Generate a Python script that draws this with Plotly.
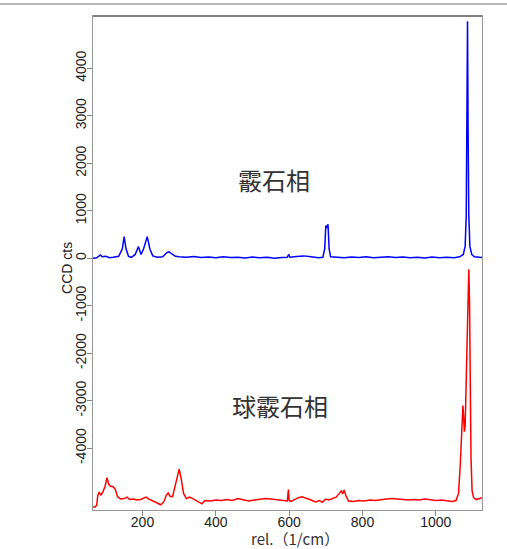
import plotly.graph_objects as go

# Raman spectra: aragonite (blue, top) and vaterite (red, offset below)
aragonite_x = [65, 75, 85, 90, 100, 110, 120, 135, 145, 150, 155, 162, 170, 180, 189, 196,
               203, 213, 220, 228, 240, 255, 265, 272, 280, 290, 300, 320, 340, 360, 380,
               400, 420, 440, 460, 480, 500, 520, 540, 560, 580, 595, 599, 602, 620, 640,
               660, 680, 692, 697, 700, 703, 706, 709, 713, 730, 750, 770, 790, 810, 830,
               850, 870, 890, 910, 930, 950, 970, 990, 1010, 1030, 1050, 1065, 1075, 1080,
               1083, 1085, 1086.5, 1088, 1090, 1093, 1098, 1105, 1115, 1126]
aragonite_y = [0, 10, 70, 30, 40, 10, 20, 40, 200, 455, 200, 40, 20, 80, 245, 80,
               200, 455, 200, 50, 20, 30, 110, 140, 90, 40, 30, 20, 35, 15, 25,
               10, 30, 15, 20, 5, 25, 10, 20, 0, 15, 20, 80, 20, 35, 50,
               30, 10, 20, 200, 690, 640, 716, 200, 30, 20, 10, 25, 15, 30, 10,
               20, 30, 15, 25, 10, 20, 5, 25, 10, 20, 10, 30, 80, 250,
               900, 2800, 4990, 2800, 900, 250, 80, 30, 20, 15]

vaterite_x = [65, 70, 75, 78, 82, 86, 92, 98, 103, 108, 113, 120, 126, 132, 140, 150, 158,
              165, 175, 185, 195, 203, 210, 218, 230, 240, 250, 258, 265, 270, 275, 282,
              290, 296, 300, 305, 312, 320, 328, 335, 345, 355, 362, 370, 385, 400, 415,
              430, 445, 460, 475, 490, 505, 520, 535, 550, 565, 580, 595, 598, 600, 605,
              615, 625, 635, 648, 660, 672, 683, 690, 700, 708, 718, 728, 738, 742, 746,
              750, 755, 762, 775, 790, 805, 820, 835, 850, 865, 880, 895, 910, 925, 940,
              955, 970, 985, 1000, 1015, 1030, 1045, 1055, 1062, 1067, 1071, 1074, 1076,
              1078, 1080, 1083, 1086, 1088, 1090, 1092, 1094, 1096, 1099, 1103, 1110,
              1118, 1126]
vaterite_y = [-5230, -5240, -5200, -5000, -4920, -4990, -4920, -4800, -4620, -4760, -4800,
              -4810, -4870, -5020, -5070, -5060, -5030, -5080, -5070, -5090, -5080, -5060,
              -5030, -5070, -5120, -5150, -5190, -5130, -4990, -4940, -5010, -5020, -4780,
              -4550, -4440, -4620, -4950, -5060, -5030, -5050, -5090, -5140, -5170, -5100,
              -5110, -5090, -5100, -5080, -5100, -5060, -5090, -5110, -5090, -5080, -5060,
              -5070, -5080, -5090, -5110, -4870, -5100, -5120, -5080, -5040, -5020, -5050,
              -5090, -5130, -5100, -5140, -5070, -5090, -5060, -5030, -4940, -4900, -4960,
              -4880, -5000, -5110, -5120, -5100, -5110, -5090, -5100, -5080, -5070, -5060,
              -5070, -5080, -5090, -5080, -5090, -5070, -5090, -5100, -5090, -5110, -5120,
              -5100, -4950, -4300, -3600, -3100, -3350, -3650, -3550, -2700, -1500, -700,
              -230, -900, -2600, -4200, -4900, -5040, -5080, -5060, -5040]

y_ticks = [-4000, -3000, -2000, -1000, 0, 1000, 2000, 3000, 4000]
y_tick_labels = ["-4000", "-3000", "-2000", "-1000", "0", "1000", "2000", "3000", "4000"]
x_ticks = [200, 400, 600, 800, 1000]

tick_font = dict(family="Liberation Sans", size=14, color="#222")

fig = go.Figure()
fig.add_trace(go.Scatter(x=aragonite_x, y=aragonite_y, mode="lines",
                         line=dict(color="#0000ff", width=1.5), showlegend=False))
fig.add_trace(go.Scatter(x=vaterite_x, y=vaterite_y, mode="lines",
                         line=dict(color="#ff0000", width=1.5), showlegend=False))

fig.add_annotation(x=560, y=1660, text="霰石相", showarrow=False,
                   font=dict(family="Noto Sans CJK JP", size=24, color="#333"))
fig.add_annotation(x=576, y=-3100, text="球霰石相", showarrow=False,
                   font=dict(family="Noto Sans CJK JP", size=24, color="#333"))

# axis titles placed by hand
fig.add_annotation(xref="paper", yref="paper", x=0.52, y=0, yshift=-28, yanchor="middle",
                   text="rel.（1/cm）", showarrow=False,
                   font=dict(family="Noto Sans CJK JP", size=15, color="#333"))
fig.add_annotation(xref="paper", yref="paper", x=0, xshift=-26, y=0.49, textangle=-90,
                   xanchor="center", text="CCD cts", showarrow=False, font=tick_font)

# top frame edge is darker, plus thin border line above the plot
fig.add_shape(type="line", xref="paper", yref="paper", x0=0, x1=1, y0=1, y1=1,
              line=dict(color="#808080", width=2))
fig.add_shape(type="line", xref="paper", yref="paper", x0=-0.25, x1=1.1, y0=1.0243, y1=1.0243,
              line=dict(color="#b8b8b8", width=2))

fig.update_xaxes(range=[65, 1126], tickvals=x_ticks, ticks="outside", ticklen=5,
                 tickcolor="#888", showline=True, linecolor="#999", mirror=True,
                 showgrid=False, zeroline=False, automargin=False, tickfont=tick_font,
                 ticklabelstandoff=-6)
fig.update_yaxes(range=[-5300, 5100], tickvals=y_ticks, ticktext=y_tick_labels,
                 ticks="outside", ticklen=5, tickcolor="#888", showline=True,
                 linecolor="#999", mirror=True, showgrid=False, zeroline=False,
                 tickangle=-90, automargin=False, tickfont=tick_font,
                 ticklabelstandoff=-5)

fig.update_layout(width=507, height=549, plot_bgcolor="white", paper_bgcolor="white",
                  margin=dict(l=93, r=25, t=16, b=39))
fig.write_html("out.html", config={"displayModeBar": False},
               post_script="document.body.style.margin='0';")
